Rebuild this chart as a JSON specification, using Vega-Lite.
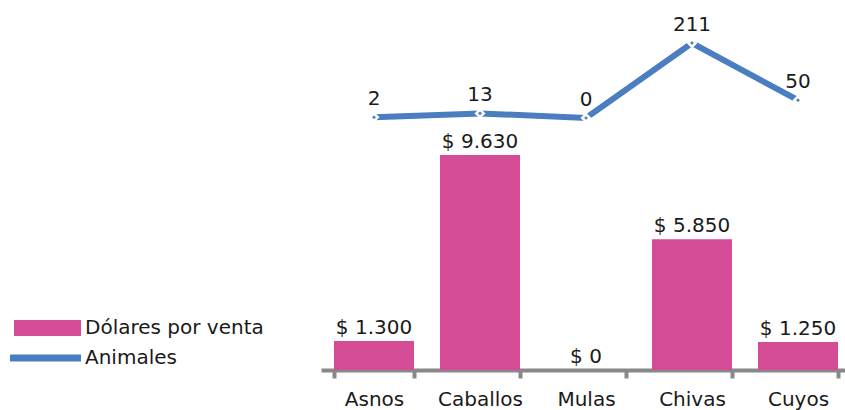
{
  "$schema": "https://vega.github.io/schema/vega-lite/v6.json",
  "width": 530,
  "height": 370,
  "autosize": {"type": "none"},
  "padding": {"left": 321, "top": 0, "right": -6, "bottom": 40},
  "background": "white",
  "config": {
    "view": {"stroke": null},
    "font": "DejaVu Sans",
    "locale": {"number": {"decimal": ",", "thousands": ".", "grouping": [3], "currency": ["$ ", ""]}}
  },
  "data": {
    "values": [
      {"categoria": "Asnos", "serie": "Dólares por venta", "valor": 1300},
      {"categoria": "Caballos", "serie": "Dólares por venta", "valor": 9630},
      {"categoria": "Mulas", "serie": "Dólares por venta", "valor": 0},
      {"categoria": "Chivas", "serie": "Dólares por venta", "valor": 5850},
      {"categoria": "Cuyos", "serie": "Dólares por venta", "valor": 1250},
      {"categoria": "Asnos", "serie": "Animales", "valor": 2},
      {"categoria": "Caballos", "serie": "Animales", "valor": 13},
      {"categoria": "Mulas", "serie": "Animales", "valor": 0},
      {"categoria": "Chivas", "serie": "Animales", "valor": 211},
      {"categoria": "Cuyos", "serie": "Animales", "valor": 50}
    ]
  },
  "encoding": {
    "x": {
      "field": "categoria",
      "type": "nominal",
      "sort": ["Asnos", "Caballos", "Mulas", "Chivas", "Cuyos"],
      "scale": {"paddingInner": 0.245, "paddingOuter": 0.1225},
      "axis": {
        "title": null,
        "domainColor": "#888888",
        "domainWidth": 4,
        "tickColor": "#888888",
        "tickWidth": 4,
        "tickSize": 8,
        "tickBand": "extent",
        "labelFontSize": 20,
        "labelColor": "#1a1a1a",
        "labelPadding": 11,
        "labelAngle": 0
      }
    }
  },
  "layer": [
    {
      "transform": [{"filter": "datum.serie === 'Dólares por venta'"}],
      "encoding": {
        "y": {"field": "valor", "type": "quantitative", "scale": {"domain": [0, 16570]}, "axis": null}
      },
      "layer": [
        {
          "mark": {"type": "bar"},
          "encoding": {
            "color": {
              "field": "serie",
              "type": "nominal",
              "scale": {"domain": ["Dólares por venta", "Animales"], "range": ["#D44B96", "#4A7EC0"]},
              "legend": {
                "orient": "none",
                "legendX": -260,
                "legendY": 318,
                "title": null,
                "padding": 0,
                "symbolSize": 400,
                "labelFontSize": 20,
                "labelLimit": 400,
                "labelColor": "#1a1a1a",
                "labelOffset": 4,
                "rowPadding": 10,
                "encode": {
                  "symbols": {
                    "update": {
                      "shape": {"signal": "datum.value === 'Animales' ? 'M-6.1,-0.35H1V0.35H-6.1Z' : 'M-5.7,-0.8H1V0.8H-5.7Z'"},
                      "fill": {"signal": "datum.value === 'Animales' ? '#4A7EC0' : '#D44B96'"},
                      "fillOpacity": {"value": 1},
                      "strokeWidth": {"value": 0}
                    }
                  }
                }
              }
            }
          }
        },
        {
          "mark": {"type": "text", "baseline": "bottom", "dy": -3, "fontSize": 20, "color": "#1a1a1a"},
          "encoding": {
            "text": {"field": "valor", "type": "quantitative", "format": "$,.0f"}
          }
        }
      ]
    },
    {
      "transform": [{"filter": "datum.serie === 'Animales'"}],
      "encoding": {
        "y": {"field": "valor", "type": "quantitative", "scale": {"domain": [-709, 332]}, "axis": null}
      },
      "layer": [
        {
          "mark": {"type": "line", "strokeWidth": 6},
          "encoding": {
            "color": {"field": "serie", "type": "nominal"}
          }
        },
        {
          "mark": {"type": "point", "shape": "diamond", "filled": true, "size": 55, "fill": "#4A7EC0", "stroke": "white", "strokeWidth": 2.5, "opacity": 1},
          "encoding": {}
        },
        {
          "mark": {"type": "text", "baseline": "bottom", "dy": -8, "fontSize": 20, "color": "#1a1a1a"},
          "encoding": {
            "text": {"field": "valor", "type": "quantitative"}
          }
        }
      ]
    }
  ],
  "resolve": {"scale": {"y": "independent"}}
}
